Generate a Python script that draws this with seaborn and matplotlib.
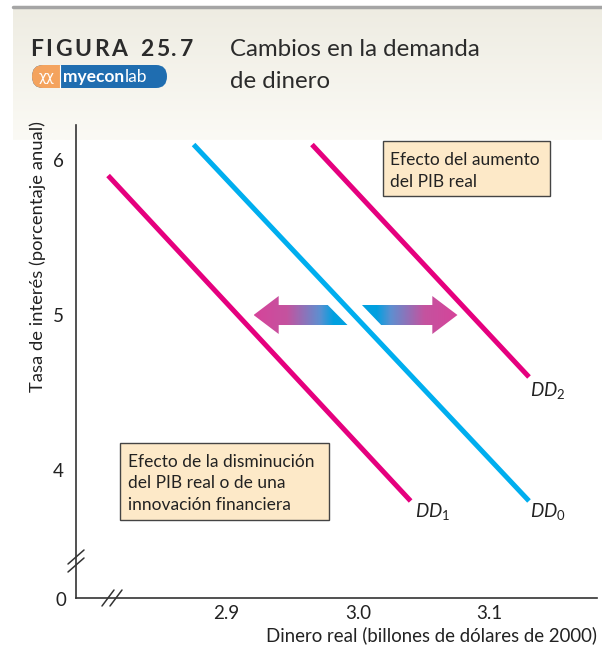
import numpy as np
import pandas as pd
import matplotlib
matplotlib.use("Agg")
import matplotlib.pyplot as plt
import seaborn as sns
from matplotlib.patches import Polygon, Rectangle, FancyBboxPatch
from matplotlib.lines import Line2D
from matplotlib.colors import LinearSegmentedColormap

# demand for money curves (end points)
dd1_x = [2.81, 3.04]
dd1_y = [5.9, 3.8]
dd0_x = [2.875, 3.13]
dd0_y = [6.1, 3.8]
dd2_x = [2.965, 3.13]
dd2_y = [6.1, 4.6]

x_ticks = [2.9, 3.0, 3.1]
x_ticklabels = ["2.9", "3.0", "3.1"]
y_ticks = [4, 5, 6]
y_ticklabels = ["4", "5", "6"]

MAGENTA = "#E5007E"
BLUE = "#00AEEF"
DARK = "#333333"
TXT = "#222222"

sns.set_theme(style="white")
plt.rcParams["font.family"] = ["Lato", "DejaVu Sans"]
plt.rcParams["mathtext.fontset"] = "custom"
plt.rcParams["mathtext.rm"] = "Lato"
plt.rcParams["mathtext.it"] = "Lato:italic"

W, H = 602, 645
fig = plt.figure(figsize=(W / 100, H / 100), dpi=100)
renderer = fig.canvas.get_renderer()


def fx(px):
    return px / W


def fy(py):
    return 1 - py / H


def tracked_text(x, y, s, track, **kw):
    # letter spaced text, x and y in pixels
    for ch in s:
        t = fig.text(fx(x), fy(y), ch, va="baseline", ha="left", **kw)
        x += t.get_window_extent(renderer).width + track
    return x


# header band
bg = fig.add_axes([fx(13), fy(140), 1 - fx(13), (140 - 8) / H], zorder=0)
grad = np.linspace(0, 1, 100).reshape(-1, 1)
bg.imshow(grad, aspect="auto", extent=[0, 1, 0, 1],
          cmap=LinearSegmentedColormap.from_list("hdr", ["#EEECE2", "#FBFAF5"]))
bg.axis("off")
fig.add_artist(Line2D([fx(13), 1], [fy(6.5), fy(6.5)], transform=fig.transFigure,
                      color="#A5A5A5", lw=2.5))

x_end = tracked_text(30, 56, "FIGURA", 2.6, fontsize=16.5, fontweight="bold", color="#2b2b2b")
tracked_text(x_end + 10, 56, "25.7", 2.6, fontsize=16.5, fontweight="bold", color="#2b2b2b")
fig.text(fx(230), fy(56), "Cambios en la demanda", fontsize=17.3, color="#2b2b2b",
         va="baseline", ha="left")
fig.text(fx(230), fy(88), "de dinero", fontsize=17.3, color="#2b2b2b",
         va="baseline", ha="left")

# myeconlab badge
logo_y0, logo_y1 = 65, 88
fig.add_artist(FancyBboxPatch((fx(32), fy(logo_y1)), fx(167) - fx(32), (logo_y1 - logo_y0) / H,
                              boxstyle="round,pad=0,rounding_size=0.018",
                              transform=fig.transFigure, fc="#1F6DB0", ec="none"))
fig.add_artist(FancyBboxPatch((fx(32), fy(logo_y1)), fx(80) - fx(32), (logo_y1 - logo_y0) / H,
                              boxstyle="round,pad=0,rounding_size=0.018",
                              transform=fig.transFigure, fc="#F4A35E", ec="none"))
fig.add_artist(Rectangle((fx(60), fy(logo_y1)), fx(140) - fx(60), (logo_y1 - logo_y0) / H,
                         transform=fig.transFigure, fc="#1F6DB0", ec="none"))
fig.add_artist(Line2D([fx(60), fx(60)], [fy(logo_y0), fy(logo_y1)], transform=fig.transFigure,
                      color="white", lw=0.8))
fig.text(fx(47), fy(77), "\u03c7\u03c7", fontsize=10, color="white", ha="center", va="center",
         family=["DejaVu Sans"])
t_my = fig.text(fx(63), fy(82), "myecon", fontsize=12.5, fontweight="bold", color="white",
                ha="left", va="baseline")
lab_x = 63 + t_my.get_window_extent(renderer).width + 0.5
fig.text(fx(lab_x), fy(82), "lab", fontsize=12.5, color="white", ha="left", va="baseline")

# main axes
ax = fig.add_axes([fx(76), fy(598), fx(597) - fx(76), (598 - 125) / H], zorder=2)
ax.patch.set_alpha(0)

curves = pd.DataFrame({
    "x": dd1_x + dd0_x + dd2_x,
    "y": dd1_y + dd0_y + dd2_y,
    "curve": ["DD1"] * len(dd1_x) + ["DD0"] * len(dd0_x) + ["DD2"] * len(dd2_x),
})
sns.lineplot(data=curves, x="x", y="y", hue="curve", units="curve",
             palette={"DD1": MAGENTA, "DD0": BLUE, "DD2": MAGENTA},
             sort=False, estimator=None, lw=3.6, legend=False, ax=ax,
             solid_capstyle="butt")

# shift arrows with a magenta -> blue gradient
cmap = LinearSegmentedColormap.from_list(
    "arr", [(0, "#D6449A"), (0.35, "#C4539F"), (0.7, "#5E8FD0"), (0.85, "#00A0E0"), (1, "#00A0E0")])
hy, sy = 0.1226, 0.0645


def grad_arrow(verts, left_tip):
    xs = [v[0] for v in verts]
    ys = [v[1] for v in verts]
    g = np.linspace(0, 1, 256).reshape(1, -1)
    if not left_tip:
        g = g[:, ::-1]
    im = ax.imshow(g, cmap=cmap, aspect="auto", zorder=3,
                   extent=[min(xs), max(xs), min(ys), max(ys)])
    poly = Polygon(verts, closed=True, fc="none", ec="none", transform=ax.transData)
    ax.add_patch(poly)
    im.set_clip_path(poly)


grad_arrow([(2.9206, 5.0), (2.9397, 5 + hy), (2.9397, 5 + sy), (2.977, 5 + sy),
            (2.992, 5 - sy), (2.9397, 5 - sy), (2.9397, 5 - hy)], True)
grad_arrow([(3.003, 5 + sy), (3.0565, 5 + sy), (3.0565, 5 + hy), (3.0756, 5.0),
            (3.0565, 5 - hy), (3.0565, 5 - sy), (3.0176, 5 - sy)], False)

ax.set_xlim(2.7856, 3.1817)
ax.set_ylim(3.174, 6.226)
ax.set_xticks(x_ticks)
ax.set_xticklabels(x_ticklabels)
ax.set_yticks(y_ticks)
ax.set_yticklabels(y_ticklabels)
ax.set_xlabel("")
ax.set_ylabel("")
ax.tick_params(direction="in", length=7, width=1.1, color=DARK, labelsize=13.5,
               labelcolor=TXT)
ax.tick_params(axis="x", pad=5)
ax.tick_params(axis="y", pad=9)
for s in ["top", "right"]:
    ax.spines[s].set_visible(False)
for s in ["left", "bottom"]:
    ax.spines[s].set_color(DARK)
    ax.spines[s].set_linewidth(1.2)

ax.text(3.043, 3.735, r"$DD_1$", fontsize=13.5, color=TXT, ha="left", va="center")
ax.text(3.131, 3.735, r"$DD_0$", fontsize=13.5, color=TXT, ha="left", va="center")
ax.text(3.131, 4.51, r"$DD_2$", fontsize=13.5, color=TXT, ha="left", va="center")

# axis breaks
for cx, cy in [(76, 557), (76, 565)]:
    fig.add_artist(Line2D([fx(cx - 8), fx(cx + 8)], [fy(cy + 7), fy(cy - 7)],
                          transform=fig.transFigure, color=DARK, lw=1.1, zorder=5))
for cx, cy in [(108, 598), (116, 598)]:
    fig.add_artist(Line2D([fx(cx - 6), fx(cx + 6)], [fy(cy + 8), fy(cy - 8)],
                          transform=fig.transFigure, color=DARK, lw=1.1, zorder=5))
fig.text(fx(61), fy(601), "0", fontsize=13.5, color=TXT, ha="center", va="center")

fig.text(fx(38), fy(256), "Tasa de interés (porcentaje anual)", rotation=90,
         fontsize=13.2, color=TXT, ha="center", va="center")
fig.text(fx(597), fy(641), "Dinero real (billones de dólares de 2000)", fontsize=13.4,
         color=TXT, ha="right", va="baseline")

# note boxes
BOX_FC = "#FDE9C8"
fig.add_artist(Rectangle((fx(383), fy(196)), fx(550) - fx(383), (196 - 141) / H,
                         transform=fig.transFigure, fc=BOX_FC, ec="#444444", lw=1, zorder=4))
fig.text(fx(390), fy(160), "Efecto del aumento", fontsize=12.5, color=TXT,
         va="center", zorder=6)
fig.text(fx(390), fy(182), "del PIB real", fontsize=12.5, color=TXT,
         va="center", zorder=6)

fig.add_artist(Rectangle((fx(120), fy(520)), fx(329) - fx(120), (520 - 443) / H,
                         transform=fig.transFigure, fc=BOX_FC, ec="#444444", lw=1, zorder=4))
for i, line in enumerate(["Efecto de la disminución", "del PIB real o de una",
                          "innovación financiera"]):
    fig.text(fx(128), fy(462 + 21.5 * i), line, fontsize=12.5, color=TXT,
             va="center", zorder=6)

fig.savefig("out.png", dpi=100)
